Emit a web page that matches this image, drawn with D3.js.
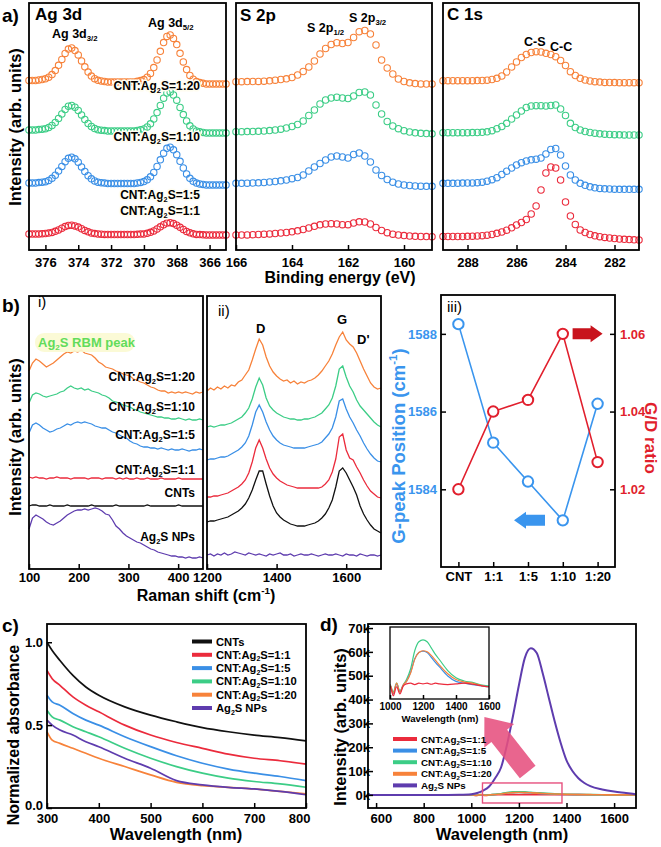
<!DOCTYPE html>
<html><head><meta charset="utf-8">
<script src="https://cdn.jsdelivr.net/npm/d3@7/dist/d3.min.js"></script>
<style>
html,body{margin:0;padding:0;background:#fff;}
svg{display:block;font-family:"Liberation Sans",Arial,Helvetica,sans-serif;}
</style></head><body>
<svg id="fig" width="661" height="847"></svg>
<script>
// ---------------- DATA ----------------
// (a) XPS, sample order: 1:20 (orange), 1:10 (green), 1:5 (blue), 1:1 (red)
const xpsSamples = ["CNT:Ag_2S=1:20", "CNT:Ag_2S=1:10", "CNT:Ag_2S=1:5", "CNT:Ag_2S=1:1"];
const xpsStack = [166, 117, 65, 15];               // vertical stacking of spectra (arb. units)
const agEnergy = d3.range(61).map(i => +(377 - 0.2 * i).toFixed(1));
const sEnergy  = d3.range(36).map(i => +(166 - 0.2 * i).toFixed(1));
const cEnergy  = d3.range(41).map(i => +(289 - 0.2 * i).toFixed(1));
const agOrange = [3.5,3.5,3.5,4,4.5,5.2,6.8,9.4,13.4,18.7,24.6,30.6,34.9,36,33.4,29.1,23.1,17.2,11.9,7.9,5.3,3.7,3,2.5,2,2,2,2,2,2,2,2,2,2.7,3.4,4.4,6.8,10.6,16.4,24.1,32.7,41.4,47.6,49,45.6,39.4,30.7,22.1,14.4,8.6,4.8,2.4,1.4,0.7,0,0,0,0,0,0,0];
const agGreen  = [3,3,3,3.4,3.8,4.3,5.5,7.5,10.5,14.5,19,23.5,26.8,27.5,25.8,22.5,18,13.5,9.5,6.5,4.5,3.3,2.8,2.4,2,2,2,2,2,2,2,2,2,2.6,3.2,4,6,9.2,14,20.4,27.6,34.8,40,41,38,32.8,25.6,18.4,12,7.2,4,2,1.2,0.6,0,0,0,0,0,0,0];
const agBlue   = [2,2,2,2.4,2.8,3.3,4.6,6.7,9.8,14,18.6,23.3,26.7,27.8,26.2,22.8,18.1,13.5,9.3,6.2,4.1,2.8,2.3,1.9,1.5,1.5,1.5,1.5,1.5,1.5,1.5,1.5,1.5,2.1,2.6,3.4,5.2,8.2,12.6,18.5,25.2,31.8,36.7,37.8,35.2,30.3,23.7,17,11.1,6.7,3.7,1.9,1.1,0.6,0,0,0,0,0,0,0];
const agRed    = [1,1,1,1.1,1.3,1.5,1.9,2.6,3.7,5.1,6.8,8.4,9.6,9.8,9.1,7.9,6.3,4.6,3.2,2.1,1.4,1,0.8,0.6,0.5,0.5,0.5,0.5,0.5,0.5,0.5,0.5,0.5,0.7,0.9,1.1,1.7,2.7,4.1,6,8.2,10.3,11.9,12.3,11.4,9.8,7.7,5.5,3.6,2.2,1.2,0.6,0.4,0.2,0,0,0,0,0,0,0];
const sOrange  = [2.3,2.3,2.4,2.5,2.6,2.8,3.2,3.8,4.5,5.2,6.5,9,12.5,17,23,30,35.5,39.5,41.3,40.5,41.5,46.5,52.3,53.5,50,39,24,16,10,5,2.5,1.2,0.4,0.1,0,0];
const sGreen   = [1.3,1.3,1.4,1.5,1.7,2,2.4,3,3.8,5,6.5,8.5,12,17.5,23,29,33,35,35.8,35,34.5,37,40.5,41,38,28,19,11.5,7,4.3,2.3,1,0.2,-0.3,-0.6,-0.8];
const sBlue    = [1.7,1.7,1.8,2,2.2,2.5,3,3.5,4.2,5,6.3,7.5,10,14,18,21.5,25,28,29,28,27,30.5,32,29,23,15,9.5,5.5,2.8,1,0,-0.5,-1,-1.2,-1.3,-1.3];
const sRed     = [0,0,0.1,0.3,0.5,0.8,1.1,1.5,2,2.5,3.2,4.2,5.5,7,8.7,10.2,11,11.3,11,10.3,10.3,12,13.2,13,11,7.5,4.5,2.3,0.8,0,-0.6,-1,-1.3,-1.5,-1.6,-1.7];
const cOrange  = [3.3,3.3,3.3,3.3,3.3,3.3,3.3,3.4,3.5,3.8,4.5,5.7,8,12,17,22,26.5,29.5,31.5,32.3,32,30.7,29.5,27.3,23.5,18.5,12.3,8.5,5.7,4,3,2.3,1.9,1.6,1.5,1.4,1.3,1.3,1.3,1.3,1.3];
const cGreen   = [0.3,0.3,0.3,0.3,0.3,0.3,0.4,0.5,0.7,1.2,2.3,4.3,6.5,9.7,14,18,22,25.5,27,27.3,27.3,27,27.5,28,24,17.5,9.7,5.5,3,1.5,0.5,-0.2,-0.8,-1.2,-1.5,-1.7,-1.8,-1.9,-2,-2,-2];
const cBlue    = [1.7,1.7,1.7,1.8,1.9,2,2.1,2.3,2.8,3.8,5.3,7.3,10.5,13.8,17,20,22.3,24,25.2,25.8,27,31,35.5,36.5,30,19,10,5,1.7,-0.3,-1.8,-2.8,-3.4,-3.8,-4,-4.2,-4.3,-4.3,-4.3,-4.3,-4.3];
const cRed     = [-1.5,-1.5,-1.5,-1.5,-1.5,-1.3,-1.2,-1,-0.7,-0.2,0.5,1.7,3,4.8,7.2,10,12.5,15.5,21,29,45,62,68,67,55,33,19,10.5,5,2.5,0.5,-0.8,-1.7,-2.4,-3,-3.5,-4,-4.3,-4.6,-4.8,-5];
const agTicks = [376,374,372,370,368,366];
const sTicks  = [166,164,162,160];
const cTicks  = [288,286,284,282];

// (b) Raman, low-frequency (i) and D/G region (ii); values include stacking
const ramanLowShift  = d3.range(51).map(i => 100 + 7 * i);
const ramanHighShift = d3.range(51).map(i => 1200 + 10 * i);
const rlOrange = [198,206,210,208,205,202,204,206,209,212,215,217,216,218,217,219,216,215,214,211,207,205,202,201,200,198,197,195,194,193,190,189,187,186,184,182,181,179,178,178,176,177,176,177,176,177,176,175,177,176,177];
const rlGreen  = [166,174,176,175,173,172,173,174,175,177,178,181,183,181,180,181,179,180,178,177,176,174,173,171,168,167,166,164,163,162,160,159,157,156,155,154,153,152,152,151,151,150,150,151,150,149,150,149,149,150,149];
const rlBlue   = [136,144,146,144,141,139,137,138,140,141,143,145,144,146,147,146,147,146,145,143,142,141,141,139,137,136,134,132,131,128,126,125,123,122,122,121,121,120,121,120,119,120,119,119,120,119,118,119,119,120,119];
const rlRed    = [92,91,92,91,91,90,91,91,92,91,91,91,90,91,91,91,91,90,91,91,91,90,91,91,91,90,91,90,91,90,90,91,90,90,91,90,90,90,91,90,90,90,90,91,90,90,90,90,90,90,90];
const rlBlack  = [63,64,64,63,63,63,64,63,63,63,63,64,63,63,63,63,63,63,64,63,63,63,63,63,63,64,63,63,63,63,63,63,63,63,64,63,63,63,63,63,63,63,63,64,63,63,63,63,63,63,63];
const rlPurple = [40,51,54,52,50,47,45,44,46,48,51,54,56,58,59,59,60,59,60,61,60,58,55,54,49,43,40,36,33,31,29,27,26,24,22,20,19,17,16,15,14,13,13,12,12,11,12,11,11,12,11];
const rhOrange = [178,181,179,182,180,183,181,184,183,187,189,194,199,209,220,230,224,212,203,197,193,190,188,189,186,188,185,187,186,188,189,191,194,198,203,208,215,224,232,237,229,225,222,216,208,200,193,186,182,180,181];
const rhGreen  = [142,143,142,143,144,144,145,146,148,150,152,156,161,170,182,191,184,171,163,159,156,154,152,151,150,150,149,149,150,150,151,152,154,156,160,164,171,183,200,203,192,183,177,169,163,159,155,151,147,144,142];
const rhBlue   = [109,110,110,111,112,112,113,115,117,119,122,126,133,144,157,164,157,147,139,133,129,126,124,123,122,121,121,121,121,122,123,124,125,127,131,135,141,152,168,170,160,152,146,139,133,126,120,115,111,108,107];
const rhRed    = [72,72,73,73,74,75,76,78,80,82,85,89,96,107,121,129,121,110,101,95,91,88,86,84,83,82,81,81,81,81,81,81,81,82,85,89,97,110,132,135,119,111,109,102,96,89,83,78,75,72,71];
const rhBlack  = [47,48,48,49,50,51,52,54,56,58,61,65,71,79,89,98,98,85,73,63,56,52,49,47,45,44,43,43,43,44,45,46,48,51,55,61,69,82,98,101,96,89,82,74,63,55,49,44,40,38,36];
const rhPurple = [14,15,13,15,14,16,14,15,17,16,15,14,16,15,14,15,14,13,15,14,15,16,14,14,15,13,14,15,14,14,15,14,13,14,15,14,14,15,14,13,15,14,14,13,15,14,13,14,14,13,14];
const ramanLabels = ["CNT:Ag_2S=1:20","CNT:Ag_2S=1:10","CNT:Ag_2S=1:5","CNT:Ag_2S=1:1","CNTs","Ag_2S NPs"];

// (b iii) G-peak position and G/D ratio
const ratioCats = ["CNT","1:1","1:5","1:10","1:20"];
const gPeakPos  = [1588.25, 1585.2, 1584.2, 1583.2, 1586.2];
const gdRatio   = [1.02, 1.04, 1.043, 1.06, 1.027];

// (c) normalized absorbance
const absWave = [300,310,325,350,375,400,450,500,550,600,650,700,750,800];
const absCNT  = [1.0,0.95,0.89,0.80,0.73,0.68,0.61,0.56,0.52,0.485,0.46,0.44,0.425,0.405];
const abs1_1  = [0.83,0.78,0.74,0.67,0.62,0.58,0.50,0.44,0.395,0.36,0.325,0.30,0.285,0.265];
const abs1_5  = [0.68,0.64,0.62,0.57,0.53,0.50,0.43,0.37,0.315,0.27,0.235,0.21,0.19,0.165];
const abs1_10 = [0.59,0.55,0.53,0.49,0.46,0.43,0.36,0.30,0.25,0.21,0.18,0.16,0.145,0.125];
const abs1_20 = [0.46,0.41,0.39,0.36,0.33,0.30,0.25,0.20,0.155,0.135,0.125,0.115,0.10,0.085];
const absAg2S = [0.53,0.50,0.47,0.44,0.40,0.37,0.30,0.24,0.165,0.14,0.125,0.115,0.10,0.08];
const absLabels = ["CNTs","CNT:Ag_2S=1:1","CNT:Ag_2S=1:5","CNT:Ag_2S=1:10","CNT:Ag_2S=1:20","Ag_2S NPs"];

// (d) photoluminescence (k counts)
const plWave   = [570,700,850,1000,1020,1040,1060,1080,1100,1125,1150,1175,1200,1225,1250,1275,1300,1350,1400,1450,1500,1550,1600,1690];
const pl1_1    = [0,0,0,0.02,-0.25,0.0,-0.2,0.02,0.08,0.1,0.06,0.1,0.08,0.1,0.07,0.1,0.08,0.06,0.08,0.1,0.07,0.03,0.0,0];
const pl1_5    = [0,0,0,0.05,-0.2,0.08,-0.15,0.05,0.15,0.4,0.78,0.95,0.99,0.95,0.82,0.68,0.55,0.3,0.15,0.1,0.06,0.03,0.0,0];
const pl1_10   = [0,0,0,0.05,-0.15,0.1,-0.12,0.05,0.2,0.5,1.0,1.25,1.3,1.25,1.08,0.9,0.75,0.45,0.25,0.16,0.12,0.05,0.02,0];
const pl1_20   = [0,0,0,0.05,-0.18,0.1,-0.15,0.05,0.15,0.38,0.76,0.95,1.0,0.97,0.87,0.74,0.6,0.36,0.2,0.13,0.1,0.04,0.0,0];
const plAgWave = [570,700,850,950,1000,1025,1050,1075,1100,1125,1150,1175,1200,1225,1250,1275,1300,1325,1350,1375,1400,1425,1450,1475,1500,1550,1600,1650,1690];
const plAg2S   = [0,0,0,0.1,0.3,0.8,1.8,3.5,7,11.5,21,33,46,57.5,61.5,59.5,51,41,31,22,14.5,10,7,5,3.7,2.3,1.4,0.8,0.3];
const plLabels = ["CNT:Ag_2S=1:1","CNT:Ag_2S=1:5","CNT:Ag_2S=1:10","CNT:Ag_2S=1:20","Ag_2S NPs"];
const plTicksY = [0,10,20,30,40,50,60,70];

// ---------------- STYLE ----------------
const C = {orange:"#f7823a", green:"#3ccd86", blue:"#3a8fe6", red:"#eb2b3c", black:"#111111", purple:"#5e3cae",
           axBlue:"#3a95ee", axRed:"#e11f2d", pink:"#e6507e"};
const svg = d3.select("#fig");

function rich(t, str, fs) {
  const re = /([_^])(?:\{([^}]*)\}|(.))|([^_^]+)/g;
  let m, cur = 0;
  while ((m = re.exec(str)) !== null) {
    if (m[4] !== undefined) {
      const s = t.append("tspan").text(m[4]);
      if (cur !== 0) { s.attr("dy", -cur); cur = 0; }
    } else {
      const s = m[2] !== undefined ? m[2] : m[3];
      const off = m[1] === "_" ? 0.24 * fs : -0.42 * fs;
      t.append("tspan").text(s).attr("font-size", 0.62 * fs).attr("dy", off - cur);
      cur = off;
    }
  }
}
function label(x, y, str, o = {}) {
  const size = o.size || 13;
  const t = svg.append("text").attr("font-size", size).attr("font-weight", o.weight || "bold")
    .attr("fill", o.color || "#000").attr("text-anchor", o.anchor || "start");
  if (o.rotate) t.attr("transform", `translate(${x},${y}) rotate(${o.rotate})`); else t.attr("x", x).attr("y", y);
  if (o.halo) t.attr("stroke", o.halo).attr("stroke-width", 3).attr("stroke-linejoin", "round").attr("paint-order", "stroke");
  rich(t, str, size);
  return t;
}
function frame(x0, x1, y0, y1, w = 1.8) {
  svg.append("rect").attr("x", x0).attr("y", y0).attr("width", x1 - x0).attr("height", y1 - y0)
    .attr("fill", "none").attr("stroke", "#000").attr("stroke-width", w);
}
function styleAxis(g, size = 13, color = "#000") {
  g.select(".domain").remove();
  g.selectAll(".tick line").attr("stroke", "#000").attr("stroke-width", 1.5);
  g.selectAll(".tick text").attr("font-size", size).attr("font-weight", "bold").attr("fill", color)
    .attr("font-family", "'Liberation Sans', Arial, sans-serif");
  return g;
}
function bottomAxis(scale, ticks, y, pad, fmt) {
  const g = svg.append("g").attr("transform", `translate(0,${y})`)
    .call(d3.axisBottom(scale).tickValues(ticks).tickSizeInner(-5).tickSizeOuter(0).tickPadding(pad).tickFormat(fmt || d3.format("d")));
  return styleAxis(g);
}
const lineOf = (xs, ys, xv, curve) => d3.line().x((d, i) => xs(xv[i])).y(d => ys(d)).curve(curve || d3.curveLinear);

// ---------------- (a) XPS ----------------
const yA = d3.scaleLinear().domain([0, 247]).range([250, 3]);
const xAg = d3.scaleLinear().domain([377, 365]).range([29, 226]);
const xS  = d3.scaleLinear().domain([166, 159]).range([236, 432]);
const xC  = d3.scaleLinear().domain([289, 281]).range([443, 639]);
const xpsColors = [C.orange, C.green, C.blue, C.red];
function xpsPanel(xs, E, list) {
  list.forEach((vals, k) => {
    svg.append("g").selectAll("circle").data(vals).join("circle")
      .attr("cx", (d, i) => xs(E[i])).attr("cy", d => yA(d + xpsStack[k])).attr("r", 3.2)
      .attr("fill", "none").attr("stroke", xpsColors[k]).attr("stroke-width", 1.1);
  });
}
xpsPanel(xAg, agEnergy, [agOrange, agGreen, agBlue, agRed]);
xpsPanel(xS, sEnergy, [sOrange, sGreen, sBlue, sRed]);
xpsPanel(xC, cEnergy, [cOrange, cGreen, cBlue, cRed]);
frame(29, 226, 3, 250); frame(236, 432, 3, 250); frame(443, 639, 3, 250);
bottomAxis(xAg, agTicks, 250, 8); bottomAxis(xS, sTicks, 250, 8); bottomAxis(xC, cTicks, 250, 8);
label(2, 22, "a)", {size: 19});
label(35, 20, "Ag 3d", {size: 17}); label(240, 21, "S 2p", {size: 17}); label(447, 20, "C 1s", {size: 17});
label(52, 38, "Ag 3d_{3/2}", {size: 12.5}); label(148, 27, "Ag 3d_{5/2}", {size: 12.5});
label(307, 32, "S 2p_{1/2}", {size: 12.5}); label(349, 22, "S 2p_{3/2}", {size: 12.5});
label(524, 46, "C-S", {size: 12.5}); label(550, 51, "C-C", {size: 12.5});
[90, 141, 199, 215].forEach((y, k) => label(200, y, xpsSamples[k], {size: 12, anchor: "end", halo: "#fffdf0"}));
label(21, 127, "Intensity (arb. units)", {size: 16.5, anchor: "middle", rotate: -90});
label(340, 283, "Binding energy (eV)", {size: 16, anchor: "middle"});

// ---------------- (b) Raman ----------------
const yR = d3.scaleLinear().domain([0, 273]).range([569, 296]);
const xRL = d3.scaleLinear().domain([100, 450]).range([29, 203]);
const xRH = d3.scaleLinear().domain([1200, 1700]).range([207, 381]);
const ramanColors = [C.orange, C.green, C.blue, C.red, C.black, C.purple];
[rlOrange, rlGreen, rlBlue, rlRed, rlBlack, rlPurple].forEach((v, k) =>
  svg.append("path").attr("d", lineOf(xRL, yR, ramanLowShift)(v)).attr("fill", "none").attr("stroke", ramanColors[k]).attr("stroke-width", 1.3));
[rhOrange, rhGreen, rhBlue, rhRed, rhBlack, rhPurple].forEach((v, k) =>
  svg.append("path").attr("d", lineOf(xRH, yR, ramanHighShift)(v)).attr("fill", "none").attr("stroke", ramanColors[k]).attr("stroke-width", 1.3));
frame(29, 203, 296, 569); frame(207, 381, 296, 569);
bottomAxis(xRL, [100, 200, 300, 400], 569, 4); bottomAxis(xRH, [1200, 1400, 1600], 569, 4);
label(2, 312, "b)", {size: 19});
label(38, 307, "i)", {size: 15, weight: "normal"});
label(218, 316, "ii)", {size: 15, weight: "normal"});
svg.append("rect").attr("x", 35).attr("y", 333).attr("width", 100).attr("height", 19).attr("rx", 9)
  .attr("fill", "#fbf9d2").attr("opacity", 0.9);
label(38, 347, "Ag_2S RBM peak", {size: 13, color: "#62dc5a"});
[381, 411, 439, 474, 497, 541].forEach((y, k) => label(195, y, ramanLabels[k], {size: 12, anchor: "end"}));
label(256, 333, "D", {size: 13}); label(337, 324, "G", {size: 13}); label(357, 344, "D'", {size: 13});
label(21, 437, "Intensity (arb. units)", {size: 16.5, anchor: "middle", rotate: -90});
label(206, 601, "Raman shift (cm^{-1})", {size: 16, anchor: "middle"});

// (b iii)
const xCat = d3.scalePoint().domain(ratioCats).range([441, 615]).padding(0.5);
const yG = d3.scaleLinear().domain([1582, 1589]).range([567, 295]);
const yGD = d3.scaleLinear().domain([1.0, 1.07]).range([567, 295]);
svg.append("path").attr("d", d3.line().x((d, i) => xCat(ratioCats[i])).y(d => yG(d))(gPeakPos))
  .attr("fill", "none").attr("stroke", C.axBlue).attr("stroke-width", 1.6);
svg.append("path").attr("d", d3.line().x((d, i) => xCat(ratioCats[i])).y(d => yGD(d))(gdRatio))
  .attr("fill", "none").attr("stroke", C.axRed).attr("stroke-width", 1.6);
svg.append("g").selectAll("circle").data(gPeakPos).join("circle").attr("cx", (d, i) => xCat(ratioCats[i])).attr("cy", d => yG(d))
  .attr("r", 5.2).attr("fill", "#fff").attr("stroke", C.axBlue).attr("stroke-width", 2);
svg.append("g").selectAll("circle").data(gdRatio).join("circle").attr("cx", (d, i) => xCat(ratioCats[i])).attr("cy", d => yGD(d))
  .attr("r", 5.2).attr("fill", "#fff").attr("stroke", C.axRed).attr("stroke-width", 2);
frame(441, 615, 295, 567);
styleAxis(svg.append("g").attr("transform", "translate(0,567)").call(d3.axisBottom(xCat).tickSizeInner(-5).tickSizeOuter(0).tickPadding(5)));
styleAxis(svg.append("g").attr("transform", "translate(441,0)")
  .call(d3.axisLeft(yG).tickValues([1584, 1586, 1588]).tickSizeInner(-5).tickSizeOuter(0).tickPadding(4).tickFormat(d3.format("d"))), 13, C.axBlue);
styleAxis(svg.append("g").attr("transform", "translate(615,0)")
  .call(d3.axisRight(yGD).tickValues([1.02, 1.04, 1.06]).tickSizeInner(-5).tickSizeOuter(0).tickPadding(5).tickFormat(d3.format(".2f"))), 13, C.axRed);
label(447, 312, "iii)", {size: 15, weight: "normal"});
label(405, 446, "G-peak Position (cm^{-1})", {size: 18.5, anchor: "middle", rotate: -90, color: C.axBlue});
label(645, 438, "G/D ratio", {size: 17, anchor: "middle", rotate: 90, color: C.axRed});
function blockArrow(tip, tail, sh, hh, hl) {
  const dx = tip[0] - tail[0], dy = tip[1] - tail[1], L = Math.hypot(dx, dy);
  const ux = dx / L, uy = dy / L, nx = -uy, ny = ux;
  const nk = [tip[0] - ux * hl, tip[1] - uy * hl];
  return [[tail[0] + nx * sh, tail[1] + ny * sh], [nk[0] + nx * sh, nk[1] + ny * sh], [nk[0] + nx * hh, nk[1] + ny * hh], tip,
          [nk[0] - nx * hh, nk[1] - ny * hh], [nk[0] - nx * sh, nk[1] - ny * sh], [tail[0] - nx * sh, tail[1] - ny * sh]]
    .map(p => p.join(",")).join(" ");
}
const redArrowY = yGD(1.06);
svg.append("polygon").attr("points", blockArrow([xCat("1:20") + 5, redArrowY], [xCat("1:20") - 25, redArrowY], 5.5, 8.5, 12)).attr("fill", "#c8131d");
const blueArrowY = yG(gPeakPos[3]);
svg.append("polygon").attr("points", blockArrow([xCat("1:5") - 14, blueArrowY], [xCat("1:5") + 17, blueArrowY], 5.5, 8.5, 12)).attr("fill", C.axBlue);

// ---------------- (c) absorbance ----------------
const xAbs = d3.scaleLinear().domain([300, 800]).range([47, 306]);
const yAbs = d3.scaleLinear().domain([0, 1.11]).range([808, 624]);
const absColors = [C.black, C.red, C.blue, C.green, C.orange, C.purple];
[absCNT, abs1_1, abs1_5, abs1_10, abs1_20, absAg2S].forEach((v, k) =>
  svg.append("path").attr("d", lineOf(xAbs, yAbs, absWave, d3.curveMonotoneX)(v)).attr("fill", "none").attr("stroke", absColors[k]).attr("stroke-width", 1.7));
frame(47, 306, 624, 808);
const gxc = bottomAxis(xAbs, [300, 400, 500, 600, 700, 800], 808, 6);
gxc.selectAll(".tick text").filter(d => d === 800).attr("text-anchor", "end").attr("x", 4);
const gyc = styleAxis(svg.append("g").attr("transform", "translate(47,0)")
  .call(d3.axisLeft(yAbs).tickValues([0, 0.5, 1.0]).tickSizeInner(-5).tickSizeOuter(0).tickPadding(4).tickFormat(d3.format(".1f"))));
gyc.selectAll(".tick text").filter(d => d === 0).attr("y", -3);
absLabels.forEach((t, k) => {
  const y = 641.5 + 13.3 * k;
  svg.append("line").attr("x1", 192).attr("x2", 212).attr("y1", y).attr("y2", y).attr("stroke", absColors[k]).attr("stroke-width", 4);
  label(216, y + 4, t, {size: 11.2});
});
label(2, 632, "c)", {size: 19});
label(19, 735, "Normalized absorbance", {size: 16, anchor: "middle", rotate: -90});
label(176, 840, "Wavelength (nm)", {size: 16.5, anchor: "middle"});

// ---------------- (d) PL ----------------
const xPL = d3.scaleLinear().domain([566, 1692]).range([368, 636]);
const yPL = d3.scaleLinear().domain([-5.5, 71.7]).range([808, 624]);
const plColors = [C.red, C.blue, C.green, C.orange];
[pl1_1, pl1_5, pl1_10, pl1_20].forEach((v, k) =>
  svg.append("path").attr("d", lineOf(xPL, yPL, plWave, d3.curveMonotoneX)(v)).attr("fill", "none").attr("stroke", plColors[k]).attr("stroke-width", 1.6));
svg.append("path").attr("d", lineOf(xPL, yPL, plAgWave, d3.curveMonotoneX)(plAg2S)).attr("fill", "none").attr("stroke", C.purple).attr("stroke-width", 2);
svg.append("rect").attr("x", xPL(1047)).attr("y", yPL(5)).attr("width", xPL(1381) - xPL(1047)).attr("height", yPL(-3.4) - yPL(5))
  .attr("fill", "none").attr("stroke", C.pink).attr("stroke-width", 1.4);
svg.append("polygon").attr("points", blockArrow([xPL(1055), yPL(32.7)], [xPL(1237), yPL(9.6)], 10, 19, 24))
  .attr("fill", C.pink).attr("opacity", 0.88);
frame(368, 636, 624, 808);
const gxd = bottomAxis(xPL, [600, 800, 1000, 1200, 1400, 1600], 808, 6);
gxd.selectAll(".tick text").filter(d => d === 600).attr("text-anchor", "start").attr("x", -6);
styleAxis(svg.append("g").attr("transform", "translate(368,0)")
  .call(d3.axisLeft(yPL).tickValues(plTicksY).tickSizeInner(-5).tickSizeOuter(0).tickPadding(-2).tickFormat(d => d + "k")));
plLabels.forEach((t, k) => {
  const y = 739 + 11.6 * k;
  svg.append("line").attr("x1", 393).attr("x2", 417).attr("y1", y).attr("y2", y).attr("stroke", k < 4 ? plColors[k] : C.purple).attr("stroke-width", 4);
  label(421, y + 3.5, t, {size: 9.8});
});
// inset
const xIn = d3.scaleLinear().domain([1000, 1600]).range([390, 489]);
const yIn = d3.scaleLinear().domain([-0.34, 1.66]).range([699, 627]);
svg.append("rect").attr("x", 390).attr("y", 627).attr("width", 99).attr("height", 72).attr("fill", "#fff");
svg.append("clipPath").attr("id", "inclip").append("rect").attr("x", 390).attr("y", 627).attr("width", 99).attr("height", 72);
const inG = svg.append("g").attr("clip-path", "url(#inclip)");
[pl1_10, pl1_5, pl1_20, pl1_1].forEach((v, k) =>
  inG.append("path").attr("d", lineOf(xIn, yIn, plWave, d3.curveMonotoneX)(v)).attr("fill", "none")
    .attr("stroke", [C.green, C.blue, C.orange, C.red][k]).attr("stroke-width", 1.2));
frame(390, 489, 627, 699, 1.3);
const gin = svg.append("g").attr("transform", "translate(0,699)")
  .call(d3.axisBottom(xIn).tickValues([1000, 1200, 1400, 1600]).tickSizeInner(-4).tickSizeOuter(0).tickPadding(4).tickFormat(d3.format("d")));
styleAxis(gin, 10);
label(440, 722, "Wavelength (nm)", {size: 9.6, anchor: "middle"});
label(320, 631, "d)", {size: 19});
label(346, 727, "Intensity (arb. units)", {size: 16.5, anchor: "middle", rotate: -90});
label(502, 840, "Wavelength (nm)", {size: 16.5, anchor: "middle"});
</script></body></html>
